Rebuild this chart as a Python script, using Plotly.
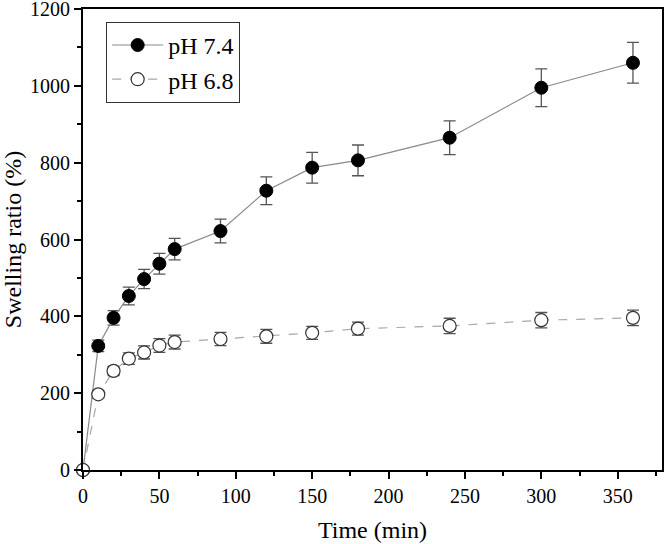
import plotly.graph_objects as go

time_min = [0, 10, 20, 30, 40, 50, 60, 90, 120, 150, 180, 240, 300, 360]
ph74 = [0, 323, 396, 453, 497, 537, 575, 622, 727, 787, 806, 865, 995, 1060]
ph74_err = [0, 15, 19, 23, 25, 27, 28, 31, 36, 40, 40, 44, 49, 53]
ph68 = [0, 197, 258, 290, 306, 324, 333, 341, 348, 357, 368, 375, 390, 396]
ph68_err = [0, 10, 12, 15, 17, 18, 18, 17, 18, 17, 17, 20, 20, 20]

FONT = "Liberation Serif"

fig = go.Figure()
fig.add_trace(go.Scatter(
    x=time_min, y=ph74, name="pH 7.4", mode="lines+markers",
    line=dict(color="#8a8a8a", width=1.2),
    marker=dict(symbol="circle", size=13, color="black", line=dict(color="black", width=1)),
    error_y=dict(type="data", array=ph74_err, visible=True, color="#555555", thickness=1.3, width=6),
    cliponaxis=False,
))
fig.add_trace(go.Scatter(
    x=time_min, y=ph68, name="pH 6.8", mode="lines+markers",
    line=dict(color="#a8a8a8", width=1.2, dash="dash"),
    marker=dict(symbol="circle", size=13, color="white", line=dict(color="#333333", width=1.2)),
    error_y=dict(type="data", array=ph68_err, visible=True, color="#555555", thickness=1.3, width=6),
    cliponaxis=False,
))

axis_common = dict(
    showline=True, linecolor="black", linewidth=2, mirror=True,
    ticks="outside", ticklen=7, tickwidth=2, tickcolor="black",
    showgrid=False, zeroline=False, automargin=False,
    ticklabeloverflow="allow",
    tickfont=dict(family=FONT, size=20, color="black"),
    minor=dict(ticks="outside", ticklen=4, tickwidth=2, tickcolor="black", showgrid=False),
)

fig.update_xaxes(range=[0, 379], tick0=0, dtick=50, minor_dtick=25,
                 title=dict(text="Time (min)", font=dict(family=FONT, size=24, color="black")),
                 **axis_common)
fig.update_yaxes(range=[0, 1200], tick0=0, dtick=200, minor_dtick=100,
                 title=dict(text="Swelling ratio (%)", font=dict(family=FONT, size=24, color="black")),
                 **axis_common)

fig.update_layout(
    width=664, height=544,
    margin=dict(l=83, r=2, t=9, b=74),
    paper_bgcolor="white", plot_bgcolor="white",
    font=dict(family=FONT, color="black"),
    legend=dict(x=0.04, y=0.972, xanchor="left", yanchor="top",
                bordercolor="#333333", borderwidth=1, bgcolor="white",
                font=dict(family=FONT, size=24, color="black"),
                tracegroupgap=0, itemwidth=51),
    showlegend=True,
)

fig.write_html("out.html", config={"displayModeBar": False},
               post_script="document.body.style.margin='0';")
